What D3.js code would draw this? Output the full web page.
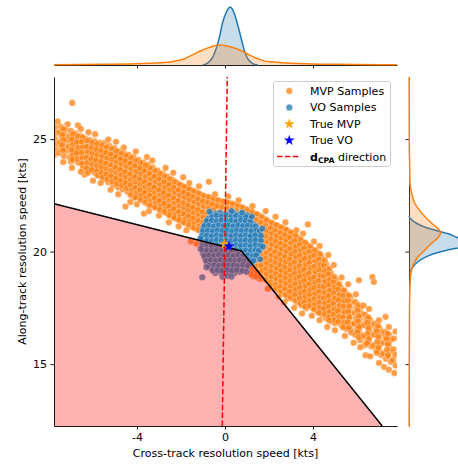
<!DOCTYPE html>
<html><head><meta charset="utf-8">
<script src="https://cdn.jsdelivr.net/npm/d3@7"></script>
<style>body{margin:0;background:#fff}svg{display:block}text{font-family:"DejaVu Sans",sans-serif}</style>
</head><body><svg id="chart" width="458" height="466"></svg>
<script>
// MVP resolution samples [cross-track, along-track] in kts
const mvpSamples = [
[-7.72,25.52],[-7.66,25.28],[-7.74,25.02],[-7.64,24.78],[-7.70,24.52],[-7.75,24.30],
[-7.46,25.55],[-7.52,25.30],[-7.42,25.08],[-7.50,24.86],[-7.44,24.60],[-7.54,24.38],
[-7.24,25.42],[-7.30,25.20],[-7.20,24.96],[-7.28,24.72],[-7.22,24.48],[-7.32,24.25],
[-7.00,25.36],[-7.08,25.12],[-7.02,24.88],[-7.10,24.66],[-6.98,24.42],[-7.06,24.18],[-7.00,24.00],
[-6.80,25.25],[-6.86,25.02],[-6.78,24.80],[-6.84,24.55],[-6.76,24.30],[-6.88,24.05],
[-6.58,25.15],[-6.64,24.92],[-6.56,24.68],[-6.62,24.44],[-6.54,24.20],[-6.66,23.95],
[-6.36,25.02],[-6.42,24.80],[-6.34,24.56],[-6.40,24.34],[-6.32,24.10],[-6.44,23.86],[-6.30,23.62],[-6.38,23.42],
[-6.14,24.96],[-6.20,24.72],[-6.12,24.50],[-6.18,24.26],[-6.10,24.04],[-6.22,23.80],[-6.14,23.58],
[-5.92,24.90],[-5.98,24.66],[-5.90,24.44],[-5.96,24.20],[-5.88,23.98],[-6.00,23.74],[-5.92,23.50],
[-5.70,24.84],[-5.76,24.62],[-5.68,24.38],[-5.74,24.14],[-5.66,23.92],[-5.78,23.68],[-5.70,23.42],
[-5.48,24.82],[-5.54,24.58],[-5.46,24.36],[-5.52,24.12],[-5.44,23.88],[-5.56,23.66],[-5.48,23.42],[-5.52,23.20],
[-5.26,24.70],[-5.32,24.48],[-5.24,24.24],[-5.30,24.02],[-5.22,23.78],[-5.34,23.54],[-5.26,23.30],[-5.30,23.08],
[-5.04,24.60],[-5.10,24.36],[-5.02,24.14],[-5.08,23.90],[-5.00,23.66],[-5.12,23.44],[-5.04,23.20],[-5.08,22.96],
[-4.82,24.46],[-4.88,24.22],[-4.80,24.00],[-4.86,23.76],[-4.78,23.54],[-4.90,23.30],[-4.82,23.08],[-4.86,22.86],
[-4.60,24.36],[-4.66,24.12],[-4.58,23.90],[-4.64,23.66],[-4.56,23.42],[-4.68,23.20],[-4.60,22.96],[-4.64,22.76],
[-4.38,24.30],[-4.44,24.06],[-4.36,23.84],[-4.42,23.60],[-4.34,23.38],[-4.46,23.14],[-4.38,22.90],[-4.42,22.66],
[-4.16,24.20],[-4.22,23.96],[-4.14,23.74],[-4.20,23.50],[-4.12,23.28],[-4.24,23.04],[-4.16,22.80],[-4.20,22.56],[-4.14,22.42],
[-3.94,24.08],[-4.00,23.86],[-3.92,23.62],[-3.98,23.40],[-3.90,23.16],[-4.02,22.94],[-3.94,22.70],[-3.98,22.46],
[-3.72,23.96],[-3.78,23.72],[-3.70,23.50],[-3.76,23.26],[-3.68,23.04],[-3.80,22.80],[-3.72,22.56],[-3.76,22.32],
[-3.50,23.86],[-3.56,23.62],[-3.48,23.40],[-3.54,23.16],[-3.46,22.94],[-3.58,22.70],[-3.50,22.46],[-3.54,22.22],[-3.48,22.08],
[-3.28,23.74],[-3.34,23.50],[-3.26,23.28],[-3.32,23.04],[-3.24,22.82],[-3.36,22.58],[-3.28,22.34],[-3.32,22.10],
[-3.06,23.60],[-3.12,23.38],[-3.04,23.14],[-3.10,22.92],[-3.02,22.68],[-3.14,22.44],[-3.06,22.22],[-3.10,21.98],
[-2.84,23.46],[-2.90,23.22],[-2.82,23.00],[-2.88,22.76],[-2.80,22.54],[-2.92,22.30],[-2.84,22.06],[-2.88,21.84],
[-2.62,23.34],[-2.68,23.10],[-2.60,22.88],[-2.66,22.64],[-2.58,22.42],[-2.70,22.18],[-2.62,21.94],[-2.66,21.72],
[-2.40,23.20],[-2.46,22.98],[-2.38,22.74],[-2.44,22.52],[-2.36,22.28],[-2.48,22.04],[-2.40,21.82],[-2.44,21.58],
[-2.18,23.06],[-2.24,22.82],[-2.16,22.60],[-2.22,22.36],[-2.14,22.14],[-2.26,21.90],[-2.18,21.66],[-2.22,21.46],
[-1.96,22.94],[-2.02,22.70],[-1.94,22.48],[-2.00,22.24],[-1.92,22.02],[-2.04,21.78],[-1.96,21.56],[-2.00,21.36],
[-1.74,22.84],[-1.80,22.62],[-1.72,22.38],[-1.78,22.16],[-1.70,21.92],[-1.82,21.70],[-1.74,21.46],[-1.78,21.26],
[-1.52,22.74],[-1.58,22.50],[-1.50,22.28],[-1.56,22.04],[-1.48,21.82],[-1.60,21.58],[-1.52,21.36],[-1.56,21.14],
[-1.30,22.64],[-1.36,22.42],[-1.28,22.18],[-1.34,21.96],[-1.26,21.72],[-1.38,21.50],[-1.30,21.26],[-1.34,21.02],
[-1.08,22.52],[-1.14,22.28],[-1.06,22.06],[-1.12,21.82],[-1.04,21.60],[-1.16,21.36],[-1.08,21.14],[-1.12,20.92],
[-0.86,22.44],[-0.92,22.20],[-0.84,21.98],[-0.90,21.74],[-0.82,21.50],[-0.94,21.28],
[-0.64,22.38],[-0.70,22.14],[-0.62,21.92],[-0.68,21.68],
[-0.42,22.30],[-0.48,22.06],[-0.40,21.84],
[-0.20,22.24],[-0.26,22.00],[-0.18,21.82],
[0.02,22.20],[-0.04,21.96],[0.24,22.14],[0.18,21.92],[0.46,22.08],[0.40,21.86],
[0.68,22.00],[0.62,21.78],[0.90,21.90],[0.84,21.68],
[1.12,21.80],[1.06,21.56],[1.14,21.34],
[1.34,21.70],[1.28,21.46],[1.36,21.22],[1.30,20.98],[1.32,20.74],[1.36,20.50],[1.30,20.26],[1.34,20.02],[1.28,19.80],[1.34,19.56],[1.28,19.32],[1.36,19.08],[1.30,18.90],
[1.56,21.60],[1.50,21.36],[1.58,21.12],[1.52,20.88],[1.60,20.64],[1.48,20.40],[1.56,20.16],[1.52,19.92],[1.58,19.68],[1.50,19.44],[1.56,19.20],[1.52,18.96],[1.58,18.78],
[1.78,21.46],[1.72,21.22],[1.80,20.98],[1.74,20.74],[1.82,20.50],[1.70,20.26],[1.78,20.02],[1.74,19.78],[1.80,19.54],[1.72,19.30],[1.78,19.06],[1.74,18.82],
[1.96,21.34],[2.02,21.10],[1.94,20.86],[2.00,20.62],[1.92,20.38],[2.04,20.14],[1.96,19.90],[2.00,19.66],[1.94,19.42],[2.02,19.18],[1.96,18.94],[2.00,18.70],
[2.18,21.24],[2.24,21.00],[2.16,20.76],[2.22,20.52],[2.14,20.28],[2.26,20.04],[2.18,19.80],[2.22,19.56],[2.16,19.32],[2.24,19.08],[2.18,18.84],[2.22,18.60],[2.16,18.42],
[2.40,21.14],[2.46,20.90],[2.38,20.66],[2.44,20.42],[2.36,20.18],[2.48,19.94],[2.40,19.70],[2.44,19.46],[2.38,19.22],[2.46,18.98],[2.40,18.74],[2.44,18.50],[2.38,18.28],
[2.62,21.04],[2.68,20.80],[2.60,20.56],[2.66,20.32],[2.58,20.08],[2.70,19.84],[2.62,19.60],[2.66,19.36],[2.60,19.12],[2.68,18.88],[2.62,18.64],[2.66,18.40],[2.60,18.14],
[2.84,20.94],[2.90,20.70],[2.82,20.46],[2.88,20.22],[2.80,19.98],[2.92,19.74],[2.84,19.50],[2.88,19.26],[2.82,19.02],[2.90,18.78],[2.84,18.54],[2.88,18.30],[2.82,18.06],[2.86,17.92],
[3.06,20.80],[3.12,20.56],[3.04,20.32],[3.10,20.08],[3.02,19.84],[3.14,19.60],[3.06,19.36],[3.10,19.12],[3.04,18.88],[3.12,18.64],[3.06,18.40],[3.10,18.16],[3.04,17.90],
[3.28,20.64],[3.34,20.40],[3.26,20.16],[3.32,19.92],[3.24,19.68],[3.36,19.44],[3.28,19.20],[3.32,18.96],[3.26,18.72],[3.34,18.48],[3.28,18.24],[3.32,18.00],[3.26,17.76],
[3.50,20.46],[3.56,20.22],[3.48,19.98],[3.54,19.74],[3.46,19.50],[3.58,19.26],[3.50,19.02],[3.54,18.78],[3.48,18.54],[3.56,18.30],[3.50,18.06],[3.54,17.82],[3.48,17.60],
[3.72,20.30],[3.78,20.06],[3.70,19.82],[3.76,19.58],[3.68,19.34],[3.80,19.10],[3.72,18.86],[3.76,18.62],[3.70,18.38],[3.78,18.14],[3.72,17.90],[3.76,17.66],[3.70,17.48],
[3.94,20.14],[4.00,19.90],[3.92,19.66],[3.98,19.42],[3.90,19.18],[4.02,18.94],[3.94,18.70],[3.98,18.46],[3.92,18.22],[4.00,17.98],[3.94,17.74],[3.98,17.50],
[4.16,19.98],[4.22,19.74],[4.14,19.50],[4.20,19.26],[4.12,19.02],[4.24,18.78],[4.16,18.54],[4.20,18.30],[4.14,18.06],[4.22,17.82],[4.16,17.58],[4.20,17.34],
[4.38,19.80],[4.44,19.56],[4.36,19.32],[4.42,19.08],[4.34,18.84],[4.46,18.60],[4.38,18.36],[4.42,18.12],[4.36,17.88],[4.44,17.64],[4.38,17.40],[4.42,17.18],
[4.60,19.44],[4.66,19.20],[4.58,18.96],[4.64,18.72],[4.56,18.48],[4.68,18.24],[4.60,18.00],[4.64,17.76],[4.58,17.52],[4.66,17.28],[4.60,17.04],
[4.82,19.02],[4.88,18.78],[4.80,18.54],[4.86,18.30],[4.78,18.06],[4.90,17.82],[4.82,17.58],[4.86,17.34],[4.80,17.10],[4.88,16.88],
[5.04,18.74],[5.10,18.50],[5.02,18.26],[5.08,18.02],[5.00,17.78],[5.12,17.54],[5.04,17.30],[5.08,17.06],[5.02,16.82],
[5.26,18.40],[5.32,18.16],[5.24,17.92],[5.30,17.68],[5.22,17.44],[5.34,17.20],[5.26,16.96],[5.30,16.72],
[5.48,18.18],[5.54,17.94],[5.46,17.70],[5.52,17.46],[5.44,17.22],[5.56,16.98],[5.48,16.74],[5.52,16.56],
[5.70,17.98],[5.76,17.74],[5.68,17.50],[5.74,17.26],[5.66,17.02],[5.78,16.78],[5.70,16.54],[5.74,16.40],
[5.92,17.76],[5.98,17.52],[5.90,17.28],[5.96,17.04],[5.88,16.80],[6.00,16.56],[5.92,16.30],
[6.14,17.48],[6.20,17.24],[6.12,17.00],[6.18,16.76],[6.10,16.52],[6.22,16.28],[6.14,16.06],
[6.36,17.20],[6.42,16.96],[6.34,16.72],[6.32,16.24],[6.44,16.00],[6.36,15.84],
[6.58,16.98],[6.64,16.74],[6.56,16.50],[6.62,16.26],[6.54,16.02],[6.66,15.78],
[6.80,16.80],[6.86,16.56],[6.78,16.32],[6.76,15.84],[6.88,15.60],
[7.02,16.60],[7.08,16.36],[7.00,16.12],[7.06,15.88],[6.98,15.64],[7.10,15.40],
[7.24,16.44],[7.30,16.20],[7.22,15.96],[7.20,15.48],[7.32,15.24],
[7.46,16.30],[7.52,16.06],[7.44,15.82],[7.50,15.58],[7.42,15.34],[7.54,15.10],
[7.68,16.14],[7.66,15.66],[7.72,15.42],[7.64,15.18],[7.76,14.94],
[-6.94,26.61],[-6.68,25.61],[-4.52,22.00],[-3.68,21.69],[-0.73,23.10],[3.77,21.21],
[6.09,18.73],[6.70,18.87],[6.77,18.65],[7.30,17.10],[6.39,15.39],[7.23,14.87],
[-1.55,20.45],[-1.30,20.35],
[-7.35,25.45],[-7.39,25.19],[-7.33,24.97],[-7.41,24.74],[-7.36,24.50],
[-6.91,25.22],[-6.95,24.99],[-6.90,24.76],[-6.96,24.52],[-6.92,24.28],[-6.94,24.10],
[-6.69,25.12],[-6.73,24.86],[-6.68,24.62],[-6.74,24.38],[-6.70,24.12],
[-6.47,25.08],[-6.51,24.88],[-6.46,24.64],[-6.52,24.40],[-6.48,24.16],[-6.50,23.92],[-6.45,23.70],
[-6.25,24.92],[-6.29,24.66],[-6.24,24.42],[-6.30,24.18],[-6.26,23.94],[-6.28,23.70],[-6.23,23.50],
[-6.03,24.84],[-6.07,24.60],[-6.02,24.36],[-6.08,24.12],[-6.04,23.88],[-6.06,23.64],
[-5.81,24.78],[-5.85,24.54],[-5.80,24.30],[-5.86,24.06],[-5.82,23.82],[-5.84,23.58],[-5.79,23.38],
[-5.59,24.72],[-5.63,24.48],[-5.58,24.24],[-5.64,24.00],[-5.60,23.76],[-5.62,23.52],[-5.57,23.30],
[-5.37,24.64],[-5.41,24.40],[-5.36,24.16],[-5.42,23.92],[-5.38,23.68],[-5.40,23.44],[-5.35,23.22],
[-5.15,24.56],[-5.19,24.32],[-5.14,24.08],[-5.20,23.84],[-5.16,23.60],[-5.18,23.36],[-5.13,23.12],
[-4.93,24.46],[-4.97,24.22],[-4.92,23.98],[-4.98,23.74],[-4.94,23.50],[-4.96,23.26],[-4.91,23.02],
[-4.71,24.36],[-4.75,24.12],[-4.70,23.88],[-4.76,23.64],[-4.72,23.40],[-4.74,23.16],[-4.69,22.94],
[-4.49,24.26],[-4.53,24.02],[-4.48,23.78],[-4.54,23.54],[-4.50,23.30],[-4.52,23.06],[-4.47,22.82],
[-4.27,24.16],[-4.31,23.92],[-4.26,23.68],[-4.32,23.44],[-4.28,23.20],[-4.30,22.96],[-4.25,22.72],[-4.29,22.52],
[-4.05,24.04],[-4.09,23.80],[-4.04,23.56],[-4.10,23.32],[-4.06,23.08],[-4.08,22.84],[-4.03,22.60],[-4.07,22.40],
[-3.83,23.94],[-3.87,23.70],[-3.82,23.46],[-3.88,23.22],[-3.84,22.98],[-3.86,22.74],[-3.81,22.50],[-3.85,22.30],
[-3.61,23.82],[-3.65,23.58],[-3.60,23.34],[-3.66,23.10],[-3.62,22.86],[-3.64,22.62],[-3.59,22.38],[-3.63,22.18],
[-3.39,23.70],[-3.43,23.46],[-3.38,23.22],[-3.44,22.98],[-3.40,22.74],[-3.42,22.50],[-3.37,22.26],[-3.41,22.06],
[-3.17,23.58],[-3.21,23.34],[-3.16,23.10],[-3.22,22.86],[-3.18,22.62],[-3.20,22.38],[-3.15,22.14],[-3.19,21.96],
[-2.95,23.46],[-2.99,23.22],[-2.94,22.98],[-3.00,22.74],[-2.96,22.50],[-2.98,22.26],[-2.93,22.02],[-2.97,21.86],
[-2.73,23.34],[-2.77,23.10],[-2.72,22.86],[-2.78,22.62],[-2.74,22.38],[-2.76,22.14],[-2.71,21.90],[-2.75,21.76],
[-2.51,23.22],[-2.55,22.98],[-2.50,22.74],[-2.56,22.50],[-2.52,22.26],[-2.54,22.02],[-2.49,21.78],[-2.53,21.62],
[-2.29,23.10],[-2.33,22.86],[-2.28,22.62],[-2.34,22.38],[-2.30,22.14],[-2.32,21.90],[-2.27,21.66],[-2.31,21.50],
[-2.07,22.98],[-2.11,22.74],[-2.06,22.50],[-2.12,22.26],[-2.08,22.02],[-2.10,21.78],[-2.05,21.54],[-2.09,21.40],
[-1.85,22.88],[-1.89,22.64],[-1.84,22.40],[-1.90,22.16],[-1.86,21.92],[-1.88,21.68],[-1.83,21.44],[-1.87,21.30],
[-1.63,22.78],[-1.67,22.54],[-1.62,22.30],[-1.68,22.06],[-1.64,21.82],[-1.66,21.58],[-1.61,21.34],[-1.65,21.18],
[-1.41,22.68],[-1.45,22.44],[-1.40,22.20],[-1.46,21.96],[-1.42,21.72],[-1.44,21.48],[-1.39,21.24],[-1.43,21.06],
[-1.19,22.58],[-1.23,22.34],[-1.18,22.10],[-1.24,21.86],[-1.20,21.62],[-1.22,21.38],[-1.17,21.14],[-1.21,20.96],
[-0.97,22.48],[-1.01,22.24],[-0.96,22.00],[-1.02,21.76],[-0.98,21.52],[-1.00,21.30],
[-0.75,22.42],[-0.79,22.18],[-0.74,21.94],[-0.80,21.70],
[-0.53,22.34],[-0.57,22.10],[-0.52,21.86],[-0.31,22.28],[-0.35,22.04],[-0.09,22.22],[-0.13,21.98],
[0.13,22.18],[0.09,21.94],[0.35,22.12],[0.31,21.88],[0.57,22.04],[0.53,21.80],[0.79,21.96],[0.75,21.72],[1.01,21.86],[0.97,21.62],
[1.23,21.76],[1.19,21.52],[1.24,21.28],[1.22,19.20],[1.18,19.00],
[1.45,21.66],[1.41,21.42],[1.46,21.18],[1.42,19.34],[1.46,19.10],[1.41,18.90],
[1.67,21.54],[1.63,21.30],[1.68,21.06],[1.64,20.82],[1.69,20.58],[1.62,20.34],[1.67,20.10],[1.63,19.86],[1.68,19.62],[1.64,19.38],[1.67,19.14],[1.63,18.90],
[1.89,21.40],[1.85,21.16],[1.90,20.92],[1.86,20.68],[1.91,20.44],[1.84,20.20],[1.89,19.96],[1.85,19.72],[1.90,19.48],[1.86,19.24],[1.89,19.00],[1.85,18.76],
[2.11,21.28],[2.07,21.04],[2.12,20.80],[2.08,20.56],[2.13,20.32],[2.06,20.08],[2.11,19.84],[2.07,19.60],[2.12,19.36],[2.08,19.12],[2.11,18.88],[2.07,18.64],[2.10,18.50],
[2.33,21.18],[2.29,20.94],[2.34,20.70],[2.30,20.46],[2.35,20.22],[2.28,19.98],[2.33,19.74],[2.29,19.50],[2.34,19.26],[2.30,19.02],[2.33,18.78],[2.29,18.54],[2.32,18.36],
[2.55,21.08],[2.51,20.84],[2.56,20.60],[2.52,20.36],[2.57,20.12],[2.50,19.88],[2.55,19.64],[2.51,19.40],[2.56,19.16],[2.52,18.92],[2.55,18.68],[2.51,18.44],[2.54,18.22],
[2.77,20.98],[2.73,20.74],[2.78,20.50],[2.74,20.26],[2.79,20.02],[2.72,19.78],[2.77,19.54],[2.73,19.30],[2.78,19.06],[2.74,18.82],[2.77,18.58],[2.73,18.34],[2.76,18.08],
[2.99,20.86],[2.95,20.62],[3.00,20.38],[2.96,20.14],[3.01,19.90],[2.94,19.66],[2.99,19.42],[2.95,19.18],[3.00,18.94],[2.96,18.70],[2.99,18.46],[2.95,18.22],[2.98,17.98],
[3.21,20.72],[3.17,20.48],[3.22,20.24],[3.18,20.00],[3.23,19.76],[3.16,19.52],[3.21,19.28],[3.17,19.04],[3.22,18.80],[3.18,18.56],[3.21,18.32],[3.17,18.08],[3.20,17.84],
[3.43,20.56],[3.39,20.32],[3.44,20.08],[3.40,19.84],[3.45,19.60],[3.38,19.36],[3.43,19.12],[3.39,18.88],[3.44,18.64],[3.40,18.40],[3.43,18.16],[3.39,17.92],[3.42,17.70],
[3.65,20.40],[3.61,20.16],[3.66,19.92],[3.62,19.68],[3.67,19.44],[3.60,19.20],[3.65,18.96],[3.61,18.72],[3.66,18.48],[3.62,18.24],[3.65,18.00],[3.61,17.76],[3.64,17.56],
[3.87,20.24],[3.83,20.00],[3.88,19.76],[3.84,19.52],[3.89,19.28],[3.82,19.04],[3.87,18.80],[3.83,18.56],[3.88,18.32],[3.84,18.08],[3.87,17.84],[3.83,17.60],
[4.09,20.06],[4.05,19.82],[4.10,19.58],[4.06,19.34],[4.11,19.10],[4.04,18.86],[4.09,18.62],[4.05,18.38],[4.10,18.14],[4.06,17.90],[4.09,17.66],[4.05,17.44],
[4.31,19.90],[4.27,19.66],[4.32,19.42],[4.28,19.18],[4.33,18.94],[4.26,18.70],[4.31,18.46],[4.27,18.22],[4.32,17.98],[4.28,17.74],[4.31,17.50],[4.27,17.28],
[4.53,19.62],[4.49,19.38],[4.54,19.14],[4.50,18.90],[4.55,18.66],[4.48,18.42],[4.53,18.18],[4.49,17.94],[4.54,17.70],[4.50,17.46],[4.53,17.24],
[4.75,19.24],[4.71,19.00],[4.76,18.76],[4.72,18.52],[4.77,18.28],[4.70,18.04],[4.75,17.80],[4.71,17.56],[4.76,17.32],[4.72,17.08],[4.74,16.94],
[4.97,18.88],[4.93,18.64],[4.98,18.40],[4.94,18.16],[4.99,17.92],[4.92,17.68],[4.97,17.44],[4.93,17.20],[4.98,16.96],
[5.19,18.56],[5.15,18.32],[5.20,18.08],[5.16,17.84],[5.21,17.60],[5.14,17.36],[5.19,17.12],[5.15,16.88],
[5.41,18.28],[5.37,18.04],[5.42,17.80],[5.38,17.56],[5.43,17.32],[5.36,17.08],[5.41,16.84],[5.37,16.64],
[5.63,18.06],[5.59,17.82],[5.64,17.58],[5.60,17.34],[5.65,17.10],[5.58,16.86],[5.63,16.62],
[6.07,17.62],[6.03,17.38],[6.08,17.14],[6.04,16.90],[6.09,16.66],[6.02,16.42],[6.07,16.20],
[6.51,17.08],[6.47,16.84],[6.52,16.60],[6.48,16.36],[6.53,16.12],[6.46,15.92],
[6.95,16.70],[6.91,16.46],[6.96,16.22],[6.92,15.98],[6.97,15.74],[6.90,15.50],
[7.39,16.36],[7.35,16.12],[7.40,15.88],[7.36,15.64],[7.41,15.40],
[-7.60,25.78],[-7.15,25.66],[-6.55,25.45],[-6.20,25.30],[-5.90,25.22],[-5.30,24.98],[-4.95,24.88],[-4.60,24.62],
[-4.05,24.45],[-3.55,24.20],[-3.30,24.05],[-2.70,23.72],[-2.35,23.50],[-1.90,23.30],[-1.62,23.05],[-1.18,22.90],
[-0.45,22.55],[0.15,22.45],[0.62,22.28],[1.25,22.02],[1.85,21.80],[2.30,21.55],[2.75,21.30],[3.25,20.95],[3.55,20.80],
[4.05,20.45],[4.30,20.25],[4.70,19.85],[4.95,19.40],[5.30,18.85],[5.60,18.55],[5.95,18.10],[6.30,17.60],[6.55,17.45],
[7.00,16.95],[7.45,16.65],[7.75,16.45],
[-7.35,23.98],[-6.95,23.72],[-6.55,23.55],[-6.00,23.15],[-5.65,23.05],[-5.20,22.75],[-4.85,22.55],[-4.30,22.20],
[-4.00,22.10],[-3.45,21.80],[-3.00,21.60],[-2.55,21.30],[-2.10,21.12],[-1.75,20.95],[1.95,18.35],[2.45,18.00],
[2.70,17.75],[3.15,17.50],[3.50,17.25],[3.95,17.15],[4.30,16.95],[4.65,16.65],[5.00,16.50],[5.45,16.25],[5.85,15.95],
[6.15,15.75],[6.60,15.35],[7.00,15.05],[7.45,14.75],[7.70,14.60]
];

// VO resolution samples [cross-track, along-track] in kts
const voSamples = [
[-0.44,21.68],[-0.22,21.72],[0.00,21.67],[0.22,21.71],[0.44,21.69],[0.66,21.66],[0.86,21.60],[-0.62,21.66],[1.00,21.62],
[-0.77,21.46],[-0.55,21.50],[-0.33,21.47],[-0.11,21.51],[0.11,21.46],[0.33,21.49],[0.55,21.45],[0.77,21.50],[0.99,21.44],[1.12,21.47],
[-0.88,21.22],[-0.66,21.27],[-0.44,21.24],[-0.22,21.29],[0.00,21.25],[0.22,21.23],[0.44,21.28],[0.66,21.24],[0.88,21.27],[1.10,21.25],[1.30,21.20],
[-0.99,21.02],[-0.77,21.06],[-0.55,21.03],[-0.33,21.07],[-0.11,21.02],[0.11,21.05],[0.33,21.01],[0.55,21.06],[0.77,21.03],[0.99,21.07],[1.21,21.02],[1.43,21.00],
[-1.02,20.80],[-0.84,20.84],[-0.66,20.81],[-0.44,20.85],[-0.22,20.80],[0.00,20.83],[0.22,20.79],[0.44,20.84],[0.66,20.81],[0.88,20.85],[1.10,20.80],[1.32,20.83],[1.54,20.78],
[-0.99,20.62],[-0.77,20.58],[-0.55,20.61],[-0.33,20.57],[-0.11,20.62],[0.11,20.59],[0.33,20.63],[0.55,20.58],[0.77,20.61],[0.99,20.57],[1.21,20.62],[1.43,20.59],[1.60,20.60],
[-1.02,20.36],[-0.84,20.40],[-0.66,20.37],[-0.44,20.41],[-0.22,20.36],[0.00,20.39],[0.22,20.35],[0.44,20.40],[0.66,20.37],[0.88,20.41],[1.10,20.36],[1.32,20.39],[1.56,20.34],
[-0.99,20.18],[-0.77,20.14],[-0.55,20.17],[-0.33,20.13],[-0.11,20.18],[0.11,20.15],[0.33,20.19],[0.55,20.14],[0.77,20.17],[0.99,20.13],[1.21,20.18],[1.43,20.15],[1.58,20.12],
[-1.00,19.92],[-0.84,19.96],[-0.66,19.93],[-0.44,19.97],[-0.22,19.92],[0.00,19.95],[0.22,19.91],[0.44,19.96],[0.66,19.93],[0.88,19.97],[1.10,19.92],[1.32,19.95],[1.48,19.93],
[-0.92,19.74],[-0.77,19.70],[-0.55,19.73],[-0.33,19.69],[-0.11,19.74],[0.11,19.71],[0.33,19.75],[0.55,19.70],[0.77,19.73],[0.99,19.69],[1.21,19.74],[1.38,19.72],
[-0.82,19.48],[-0.66,19.52],[-0.44,19.49],[-0.22,19.53],[0.00,19.48],[0.22,19.51],[0.44,19.47],[0.66,19.52],[0.88,19.49],[1.10,19.53],[1.22,19.47],
[-0.68,19.30],[-0.55,19.26],[-0.33,19.29],[-0.11,19.25],[0.11,19.30],[0.33,19.27],[0.55,19.31],[0.77,19.26],[0.97,19.29],
[-0.44,19.05],[-0.22,19.09],[0.00,19.04],[0.22,19.08],[0.44,19.05],[0.68,19.10],
[-0.11,18.88],[0.11,18.92],[0.30,18.89],
[-1.03,18.86],
[-0.60,21.58],[-0.38,21.60],[-0.16,21.57],[0.06,21.61],[0.28,21.58],[0.50,21.60],[0.72,21.57],[0.94,21.55],
[-0.82,21.36],[-0.60,21.38],[-0.38,21.35],[-0.16,21.39],[0.06,21.36],[0.28,21.38],[0.50,21.35],[0.72,21.39],[0.94,21.36],[1.16,21.34],
[-0.94,21.14],[-0.72,21.16],[-0.50,21.13],[-0.28,21.17],[-0.06,21.14],[0.16,21.16],[0.38,21.13],[0.60,21.17],[0.82,21.14],[1.04,21.16],[1.26,21.13],[1.40,21.12],
[-1.00,20.92],[-0.78,20.94],[-0.56,20.91],[-0.34,20.95],[-0.12,20.92],[0.10,20.94],[0.32,20.91],[0.54,20.95],[0.76,20.92],[0.98,20.94],[1.20,20.91],[1.42,20.95],[1.58,20.92],
[-1.04,20.70],[-0.82,20.72],[-0.60,20.69],[-0.38,20.73],[-0.16,20.70],[0.06,20.72],[0.28,20.69],[0.50,20.73],[0.72,20.70],[0.94,20.72],[1.16,20.69],[1.38,20.73],[1.64,20.70],
[-1.04,20.48],[-0.82,20.50],[-0.60,20.47],[-0.38,20.51],[-0.16,20.48],[0.06,20.50],[0.28,20.47],[0.50,20.51],[0.72,20.48],[0.94,20.50],[1.16,20.47],[1.38,20.51],[1.64,20.48],
[-1.02,20.26],[-0.82,20.28],[-0.60,20.25],[-0.38,20.29],[-0.16,20.26],[0.06,20.28],[0.28,20.25],[0.50,20.29],[0.72,20.26],[0.94,20.28],[1.16,20.25],[1.38,20.29],[1.60,20.26],
[-1.00,20.04],[-0.82,20.06],[-0.60,20.03],[-0.38,20.07],[-0.16,20.04],[0.06,20.06],[0.28,20.03],[0.50,20.07],[0.72,20.04],[0.94,20.06],[1.16,20.03],[1.38,20.07],[1.54,20.04],
[-0.94,19.82],[-0.72,19.84],[-0.50,19.81],[-0.28,19.85],[-0.06,19.82],[0.16,19.84],[0.38,19.81],[0.60,19.85],[0.82,19.82],[1.04,19.84],[1.26,19.81],[1.42,19.84],
[-0.86,19.60],[-0.64,19.62],[-0.42,19.59],[-0.20,19.63],[0.02,19.60],[0.24,19.62],[0.46,19.59],[0.68,19.63],[0.90,19.60],[1.12,19.62],[1.30,19.59],
[-0.72,19.38],[-0.50,19.40],[-0.28,19.37],[-0.06,19.41],[0.16,19.38],[0.38,19.40],[0.60,19.37],[0.82,19.41],[1.04,19.38],
[-0.56,19.16],[-0.34,19.18],[-0.12,19.15],[0.10,19.19],[0.32,19.16],[0.54,19.18],[0.80,19.15],
[-0.70,21.78],[0.30,21.80],[0.78,21.74],[1.22,21.56],[1.70,21.02],[1.72,20.22],[1.60,19.66],[-1.12,20.58],[-1.10,20.12],[-0.84,19.30],[0.98,19.10]
];

const trueMVP = [-0.02, 20.33];
const trueVO = [0.18, 20.24];
// d_CPA direction through the true MVP, as two end points
const dcpaLine = [[-0.123, 12.25], [0.105, 27.76]];
// resolution boundary; the region below it is shaded
const boundary = [[-7.77, 22.13], [0.75, 20.03], [7.15, 12.25]];

const xDomain = [-7.77, 7.82];
const yDomain = [12.25, 27.76];
const xTicks = [-4, 0, 4];
const yTicks = [15, 20, 25];

// marginal densities read as [value, density]
const kdeXVO = [[-1.00,0.00],[-0.85,0.02],[-0.70,0.06],[-0.55,0.14],[-0.40,0.28],[-0.25,0.48],[-0.10,0.74],[0.05,0.90],[0.15,0.97],[0.23,1.00],[0.32,0.97],[0.45,0.86],[0.60,0.66],[0.75,0.44],[0.90,0.23],[1.05,0.10],[1.20,0.04],[1.35,0.01],[1.50,0.00]];
const kdeXMVP = [[-7.77,0.005],[-6.5,0.008],[-5.5,0.012],[-4.5,0.018],[-3.5,0.028],[-2.8,0.042],[-2.3,0.065],[-1.9,0.10],[-1.5,0.17],[-1.1,0.245],[-0.8,0.29],[-0.5,0.33],[-0.3,0.345],[-0.1,0.34],[0.2,0.32],[0.5,0.285],[0.8,0.235],[1.1,0.175],[1.4,0.12],[1.7,0.08],[2.1,0.055],[2.6,0.04],[3.3,0.027],[4.0,0.018],[5.0,0.012],[6.0,0.008],[7.0,0.006],[7.82,0.005]];
const kdeYVO = [[19.00,0.00],[19.05,0.017],[19.26,0.05],[19.56,0.16],[19.81,0.33],[19.96,0.50],[20.08,0.68],[20.15,0.82],[20.28,0.97],[20.40,1.03],[20.52,0.97],[20.64,0.82],[20.79,0.68],[20.92,0.50],[21.08,0.28],[21.26,0.13],[21.48,0.02],[21.60,0.00]];
const kdeYMVP = [[12.25,0.003],[15.2,0.005],[17.4,0.009],[18.52,0.017],[19.04,0.034],[19.41,0.074],[19.78,0.16],[20.08,0.276],[20.37,0.39],[20.64,0.505],[20.84,0.546],[21.01,0.505],[21.26,0.39],[21.71,0.22],[22.15,0.10],[22.6,0.046],[23.04,0.017],[24.08,0.01],[24.52,0.006],[26.0,0.004],[27.76,0.003]];

const legendLabels = ["MVP Samples", "VO Samples", "True MVP", "True VO"];

const ORANGE = "#ff7f0e", BLUE = "#1f77b4";
const svg = d3.select("#chart");

const x = d3.scaleLinear().domain(xDomain).range([54, 397]);
const y = d3.scaleLinear().domain(yDomain).range([426, 77]);
const dTop = d3.scaleLinear().domain([0, 1.05]).range([65, 4]);
const dRight = d3.scaleLinear().domain([0, 1.05]).range([409, 470]);

const defs = svg.append("defs");
defs.append("clipPath").attr("id", "clipMain").append("rect").attr("x", 54).attr("y", 77).attr("width", 343).attr("height", 349);
defs.append("clipPath").attr("id", "clipTop").append("rect").attr("x", 54).attr("y", 0).attr("width", 343).attr("height", 66);
defs.append("clipPath").attr("id", "clipRight").append("rect").attr("x", 408).attr("y", 77).attr("width", 60).attr("height", 349);

// main scatter panel
const plot = svg.append("g").attr("clip-path", "url(#clipMain)");
function dots(data, color) {
  plot.append("g").selectAll("circle").data(data).join("circle")
    .attr("cx", d => x(d[0])).attr("cy", d => y(d[1])).attr("r", 3.3)
    .attr("fill", color).attr("fill-opacity", 0.75)
    .attr("stroke", "#fff").attr("stroke-opacity", 0.7).attr("stroke-width", 0.5);
}
dots(mvpSamples, ORANGE);
dots(voSamples, BLUE);

const region = boundary.concat([[boundary[boundary.length - 1][0], yDomain[0]], [xDomain[0], yDomain[0]]]);
plot.append("path").attr("d", d3.line().x(d => x(d[0])).y(d => y(d[1]))(region) + "Z")
  .attr("fill", "red").attr("fill-opacity", 0.3).attr("stroke", "none");
plot.append("path").attr("d", d3.line().x(d => x(d[0])).y(d => y(d[1]))(boundary))
  .attr("fill", "none").attr("stroke", "#000").attr("stroke-width", 1.5);
plot.append("path").attr("d", d3.line().x(d => x(d[0])).y(d => y(d[1]))(dcpaLine))
  .attr("fill", "none").attr("stroke", "red").attr("stroke-width", 1.5).attr("stroke-dasharray", "5.5,2.4");

const star = d3.symbol(d3.symbolStar, 36);
plot.append("path").attr("d", star()).attr("transform", `translate(${x(trueMVP[0])},${y(trueMVP[1])})`).attr("fill", "orange");
plot.append("path").attr("d", star()).attr("transform", `translate(${x(trueVO[0])},${y(trueVO[1])})`).attr("fill", "blue");

// axes
const fmt = d => String(d);
function styleAxis(g) {
  g.selectAll(".domain").attr("stroke", "#000").attr("stroke-width", 0.9);
  g.selectAll(".tick line").attr("stroke", "#000").attr("stroke-width", 0.9);
  g.selectAll(".tick text").attr("fill", "#000").attr("font-size", 11).attr("font-family", "DejaVu Sans");
}
svg.append("g").attr("transform", "translate(0,426)")
  .call(d3.axisBottom(x).tickValues(xTicks).tickFormat(fmt).tickSize(3.5).tickSizeOuter(0).tickPadding(3.5)).call(styleAxis);
svg.append("g").attr("transform", "translate(54,0)")
  .call(d3.axisLeft(y).tickValues(yTicks).tickFormat(fmt).tickSize(3.5).tickSizeOuter(0).tickPadding(3.5)).call(styleAxis);
svg.append("g").attr("transform", "translate(0,65)")
  .call(d3.axisBottom(x).tickValues(xTicks).tickSize(3.5).tickSizeOuter(0).tickFormat("")).call(styleAxis);
svg.append("g").attr("transform", "translate(409,0)")
  .call(d3.axisLeft(y).tickValues(yTicks).tickSize(3.5).tickSizeOuter(0).tickFormat("")).call(styleAxis);

svg.append("text").attr("x", 225.5).attr("y", 457).attr("text-anchor", "middle")
  .attr("font-size", 11).text("Cross-track resolution speed [kts]");
svg.append("text").attr("transform", "translate(22,251.5) rotate(-90)").attr("text-anchor", "middle")
  .attr("dy", "0.35em").attr("font-size", 11).text("Along-track resolution speed [kts]");

// marginal densities: VO first, MVP over it
const topG = svg.append("g").attr("clip-path", "url(#clipTop)");
const rightG = svg.append("g").attr("clip-path", "url(#clipRight)");
function topKde(data, color) {
  topG.append("path").attr("d", d3.area().x(d => x(d[0])).y0(dTop(0)).y1(d => dTop(d[1])).curve(d3.curveMonotoneX)(data))
    .attr("fill", color).attr("fill-opacity", 0.25);
  topG.append("path").attr("d", d3.line().x(d => x(d[0])).y(d => dTop(d[1])).curve(d3.curveMonotoneX)(data))
    .attr("fill", "none").attr("stroke", color).attr("stroke-width", 1.5);
}
function rightKde(data, color) {
  rightG.append("path").attr("d", d3.area().y(d => y(d[0])).x0(dRight(0)).x1(d => dRight(d[1])).curve(d3.curveMonotoneY)(data))
    .attr("fill", color).attr("fill-opacity", 0.25);
  rightG.append("path").attr("d", d3.line().y(d => y(d[0])).x(d => dRight(d[1])).curve(d3.curveMonotoneY)(data))
    .attr("fill", "none").attr("stroke", color).attr("stroke-width", 1.5);
}
topKde(kdeXVO, BLUE); topKde(kdeXMVP, ORANGE);
rightKde(kdeYVO, BLUE); rightKde(kdeYMVP, ORANGE);

// legend
const lg = svg.append("g");
lg.append("rect").attr("x", 273.5).attr("y", 81.5).attr("width", 117).attr("height", 85).attr("rx", 2.5)
  .attr("fill", "#fff").attr("fill-opacity", 0.8).attr("stroke", "#cccccc").attr("stroke-width", 1);
const rowY = [91, 107.5, 124, 140.3, 156.5];
const mx = 289.3, tx = 310;
[[ORANGE, 0], [BLUE, 1]].forEach(([c, i]) => {
  lg.append("circle").attr("cx", mx).attr("cy", rowY[i]).attr("r", 3.5).attr("fill", c).attr("fill-opacity", 0.75)
    .attr("stroke", "#fff").attr("stroke-width", 0.6);
});
lg.append("path").attr("d", star()).attr("transform", `translate(${mx},${rowY[2]})`).attr("fill", "orange");
lg.append("path").attr("d", star()).attr("transform", `translate(${mx},${rowY[3]})`).attr("fill", "blue");
lg.append("line").attr("x1", 277).attr("x2", 301).attr("y1", rowY[4]).attr("y2", rowY[4])
  .attr("stroke", "red").attr("stroke-width", 1.5).attr("stroke-dasharray", "5.5,2.4");
legendLabels.forEach((t, i) => {
  lg.append("text").attr("x", tx).attr("y", rowY[i]).attr("dy", "0.36em").attr("font-size", 11).text(t);
});
const dl = lg.append("text").attr("x", tx).attr("y", rowY[4] + 4).attr("font-size", 11);
dl.append("tspan").attr("font-weight", "bold").text("d");
dl.append("tspan").attr("font-weight", "bold").attr("font-size", 7.7).attr("dy", 2.2).text("CPA");
dl.append("tspan").attr("dy", -2.2).text(" direction");
</script></body></html>
